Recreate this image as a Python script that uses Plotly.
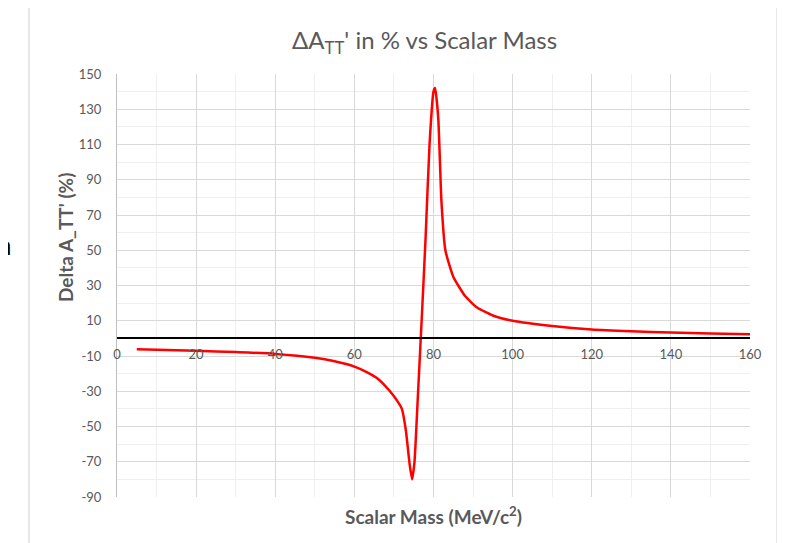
import plotly.graph_objects as go

mass = [5, 10, 20, 30, 40, 50, 55, 60, 63, 66, 69, 71, 72, 73, 74, 74.6, 75.2, 76, 77, 78, 79, 80, 80.4, 81.2, 82, 83, 85, 88, 91, 95, 100, 110, 120, 130, 140, 150, 160]
delta = [-6.2, -6.4, -7, -7.8, -8.8, -11, -13, -16, -19, -23, -30, -36, -40, -52, -72, -80, -70, -35, 10, 57, 110, 140, 142, 125, 78, 50, 35, 24, 17.5, 13, 10, 7, 5, 4, 3.3, 2.8, 2.3]

x_ticks = [0, 20, 40, 60, 80, 100, 120, 140, 160]
y_ticks = [-90, -70, -50, -30, -10, 10, 30, 50, 70, 90, 110, 130, 150]

OFF = 8  # page body margin
W, H = 785 - OFF, 543 - OFF
L, R, T, B = 117 - OFF, 35, 74 - OFF, 46
pw, ph = W - L - R, H - T - B

def px(xp):
    return (xp - OFF - L) / pw

def py(yp):
    return (H - B - (yp - OFF)) / ph

grey = "#595959"
font = "Lato, Carlito, Calibri, sans-serif"

fig = go.Figure()
fig.add_trace(go.Scatter(x=mass, y=delta, mode="lines",
                         line=dict(color="#ff0000", width=2.5, shape="spline", smoothing=0.5),
                         showlegend=False))

fig.update_layout(
    width=W, height=H,
    margin=dict(l=L, r=R, t=T, b=B, autoexpand=False),
    paper_bgcolor="white", plot_bgcolor="white",
    font=dict(family=font, color=grey),
    xaxis=dict(range=[0, 160], tickvals=x_ticks, ticktext=[str(v) for v in x_ticks],
               showgrid=True, gridcolor="#d9d9d9", gridwidth=1,
               minor=dict(dtick=10, tick0=0, showgrid=True, gridcolor="#efefef"),
               anchor="free", position=py(338),
               showline=True, linecolor="black", linewidth=2,
               zeroline=False, ticks="", ticklabelstandoff=4,
               tickfont=dict(size=13, color=grey, family=font)),
    yaxis=dict(range=[-90, 150], tickvals=y_ticks, ticktext=[str(v) for v in y_ticks],
               showgrid=True, gridcolor="#d9d9d9", gridwidth=1,
               minor=dict(dtick=10, tick0=-90, showgrid=True, gridcolor="#efefef"),
               showline=True, linecolor="#bfbfbf", linewidth=1,
               zeroline=False, ticks="", ticklabelstandoff=12,
               tickfont=dict(size=13, color=grey, family=font)),
)

fig.add_shape(type="rect", xref="paper", yref="paper",
              x0=px(29), x1=px(777), y0=py(560), y1=py(7),
              line=dict(color="#d0d0d0", width=1), fillcolor="rgba(0,0,0,0)", layer="below")

fig.add_annotation(text="ΔA<sub>TT</sub>' in % vs Scalar Mass", xref="paper", yref="paper",
                   x=px(424), y=py(42), xanchor="center", yanchor="middle", showarrow=False,
                   font=dict(size=24, color=grey, family=font))
fig.add_annotation(text="<b>Delta A_TT' (%)</b>", xref="paper", yref="paper",
                   x=px(65), y=py(238), xanchor="center", yanchor="middle",
                   textangle=-90, showarrow=False,
                   font=dict(size=19, color=grey, family=font))
fig.add_annotation(text="<b>Scalar Mass (MeV/c<sup>2</sup>)</b>", xref="paper", yref="paper",
                   x=px(433), y=py(515), xanchor="center", yanchor="middle", showarrow=False,
                   font=dict(size=19, color=grey, family=font))
fig.add_annotation(text="n", xref="paper", yref="paper",
                   x=px(14), y=py(245), xanchor="right", yanchor="middle", showarrow=False,
                   font=dict(size=26, color="black", family=font))

fig.write_html("out.html")
